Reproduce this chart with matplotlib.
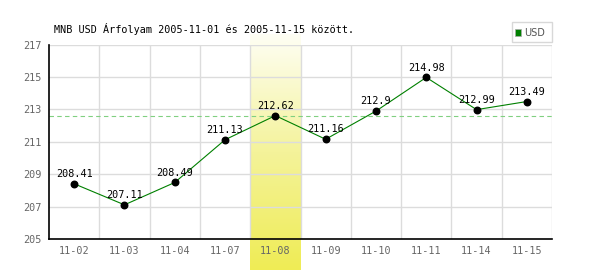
import numpy as np
import matplotlib
matplotlib.use("Agg")
import matplotlib.pyplot as plt
from matplotlib.colors import LinearSegmentedColormap
from matplotlib.patches import Rectangle

dates = ["11-02", "11-03", "11-04", "11-07", "11-08", "11-09", "11-10", "11-11", "11-14", "11-15"]
values = [208.41, 207.11, 208.49, 211.13, 212.62, 211.16, 212.90, 214.98, 212.99, 213.49]
value_labels = ["208.41", "207.11", "208.49", "211.13", "212.62", "211.16", "212.9", "214.98", "212.99", "213.49"]
yticks = [205, 207, 209, 211, 213, 215, 217]
highlight_idx = 4
ref_value = 212.62
title = "MNB USD Árfolyam 2005-11-01 és 2005-11-15 között."
legend_label = "USD"

W, H = 600, 270
fig = plt.figure(figsize=(6, 2.7), dpi=100)
L, R, T, B = 49, 552, 44.7, 239
ax = fig.add_axes([L / W, (H - B) / H, (R - L) / W, (B - T) / H])
ax.set_facecolor("white")

n = len(dates)
x = np.arange(n)
ymin, ymax = 205, 217

# gradient highlight band (extends above plot and down to image bottom)
ppu = (B - T) / (ymax - ymin)
band_top = ymax + (T - 34) / ppu
band_bot = ymin - (H - B) / ppu
cmap = LinearSegmentedColormap.from_list("hl", ["#fefef4", "#f4f39a", "#efec55"])
grad = np.linspace(0, 1, 256).reshape(-1, 1)
ax.imshow(grad, cmap=cmap, extent=[highlight_idx - 0.5, highlight_idx + 0.5, band_bot, band_top],
          aspect="auto", origin="upper", clip_on=False, zorder=0.5)

# grid
for yv in yticks[1:]:
    ax.axhline(yv, color="#dcdcdc", lw=1, zorder=1)
for k in range(1, n + 1):
    ax.axvline(k - 0.5, color="#dcdcdc", lw=1, zorder=1)

ax.axhline(ref_value, color="#80d080", lw=0.8, ls=(0, (4, 3)), zorder=2)

ax.plot(x, values, color="#008000", lw=0.8, zorder=3)
ax.scatter(x, values, s=22, color="black", zorder=4)
for xi, v, lab in zip(x, values, value_labels):
    ax.annotate(lab, (xi, v), xytext=(0, 3.5), textcoords="offset points",
                ha="center", va="bottom", fontsize=7.3, family="DejaVu Sans Mono",
                color="black", zorder=5)

ax.set_xlim(-0.5, n - 0.5)
ax.set_ylim(ymin, ymax)
ax.set_yticks(yticks)
ax.set_yticklabels([str(v) for v in yticks])
ax.set_xticks(x)
ax.set_xticklabels(dates)
ax.tick_params(length=0, labelsize=7.3, labelcolor="#666666", pad=5)
for lbl in ax.get_xticklabels() + ax.get_yticklabels():
    lbl.set_family("DejaVu Sans Mono")
for s in ["top", "right"]:
    ax.spines[s].set_visible(False)
for s in ["left", "bottom"]:
    ax.spines[s].set_color("black")
    ax.spines[s].set_linewidth(1.2)
    ax.spines[s].set_zorder(6)

fig.text(54 / W, 1 - 29 / H, title, fontsize=7.3, family="DejaVu Sans Mono",
         ha="left", va="center", color="black")

# legend
fig.patches.append(Rectangle((512 / W, 1 - 42 / H), 40 / W, 20 / H, transform=fig.transFigure,
                             facecolor="white", edgecolor="#d8d8d8", lw=1))
fig.patches.append(Rectangle((515 / W, 1 - 35.5 / H), 6 / W, 6 / H, transform=fig.transFigure,
                             facecolor="#008000", edgecolor="#aaaaaa", lw=0.5))
fig.text(524 / W, 1 - 32.5 / H, legend_label, fontsize=7, family="DejaVu Sans",
         ha="left", va="center", color="#555555")

fig.savefig("out.png", dpi=100)
